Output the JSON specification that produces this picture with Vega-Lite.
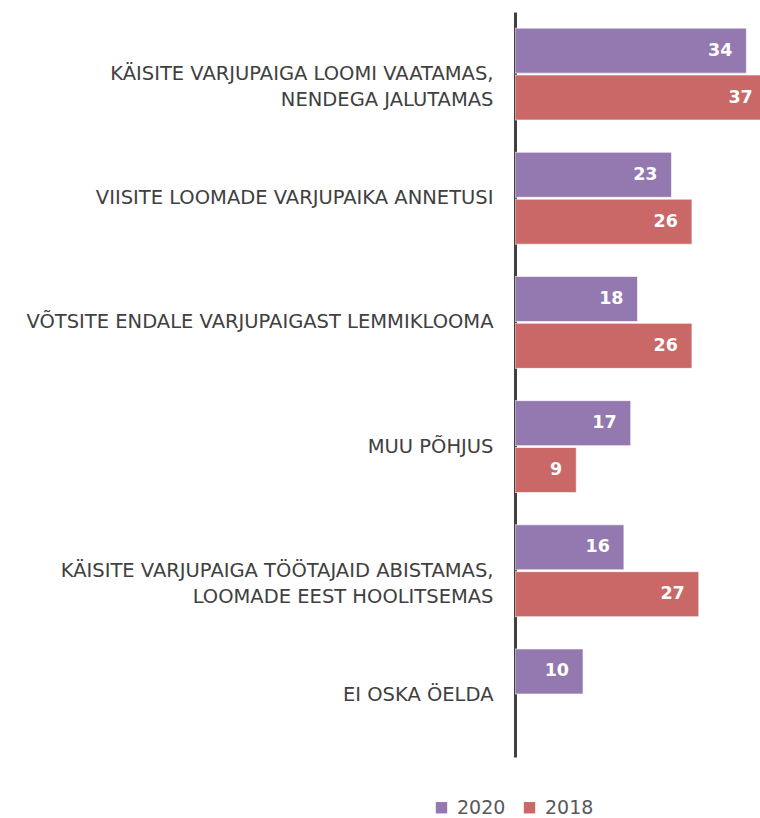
{
  "$schema": "https://vega.github.io/schema/vega-lite/v6.json",
  "width": 245,
  "height": 745,
  "autosize": "none",
  "padding": {"left": 515, "top": 12, "right": 0, "bottom": 61},
  "background": "white",
  "config": {"view": {"stroke": null}, "font": "DejaVu Sans"},
  "data": {
    "values": [
      {"cat": "KÄISITE VARJUPAIGA LOOMI VAATAMAS,\nNENDEGA JALUTAMAS", "year": "2020", "value": 34},
      {"cat": "KÄISITE VARJUPAIGA LOOMI VAATAMAS,\nNENDEGA JALUTAMAS", "year": "2018", "value": 37},
      {"cat": "VIISITE LOOMADE VARJUPAIKA ANNETUSI", "year": "2020", "value": 23},
      {"cat": "VIISITE LOOMADE VARJUPAIKA ANNETUSI", "year": "2018", "value": 26},
      {"cat": "VÕTSITE ENDALE VARJUPAIGAST LEMMIKLOOMA", "year": "2020", "value": 18},
      {"cat": "VÕTSITE ENDALE VARJUPAIGAST LEMMIKLOOMA", "year": "2018", "value": 26},
      {"cat": "MUU PÕHJUS", "year": "2020", "value": 17},
      {"cat": "MUU PÕHJUS", "year": "2018", "value": 9},
      {"cat": "KÄISITE VARJUPAIGA TÖÖTAJAID ABISTAMAS,\nLOOMADE EEST HOOLITSEMAS", "year": "2020", "value": 16},
      {"cat": "KÄISITE VARJUPAIGA TÖÖTAJAID ABISTAMAS,\nLOOMADE EEST HOOLITSEMAS", "year": "2018", "value": 27},
      {"cat": "EI OSKA ÖELDA", "year": "2020", "value": 10}
    ]
  },
  "encoding": {
    "y": {
      "field": "cat",
      "type": "nominal",
      "sort": null,
      "scale": {"paddingInner": 0.26, "paddingOuter": 0.13},
      "axis": {
        "title": null,
        "ticks": false,
        "domainColor": "#404040",
        "domainWidth": 3,
        "labelPadding": 22,
        "labelFont": "DejaVu Sans",
        "labelFontSize": 19.5,
        "labelColor": "#404040",
        "labelLimit": 600,
        "labelLineHeight": 26,
        "labelExpr": "split(datum.label, '\\n')"
      }
    },
    "yOffset": {
      "field": "year",
      "type": "nominal",
      "scale": {"domain": ["2020", "2018"], "paddingInner": 0.04}
    },
    "x": {
      "field": "value",
      "type": "quantitative",
      "scale": {"domain": [0, 36], "nice": false},
      "axis": null
    }
  },
  "layer": [
    {
      "mark": {"type": "bar", "clip": true, "stroke": "#ffffff", "strokeWidth": 1, "strokeOpacity": 0.6},
      "encoding": {
        "color": {
          "field": "year",
          "type": "nominal",
          "scale": {"domain": ["2020", "2018"], "range": ["#9479b0", "#c96866"]},
          "legend": {
            "title": null,
            "orient": "none",
            "direction": "horizontal",
            "legendX": -83,
            "legendY": 786,
            "symbolType": "square",
            "symbolSize": 130,
            "symbolStrokeWidth": 0,
            "labelFontSize": 19,
            "labelFont": "DejaVu Sans",
            "labelColor": "#595959",
            "columnPadding": 14,
            "labelOffset": 6
          }
        }
      }
    },
    {
      "mark": {"type": "text", "align": "right", "baseline": "middle", "dx": -14, "color": "white", "fontWeight": "bold", "fontSize": 17.5, "font": "DejaVu Sans"},
      "encoding": {"text": {"field": "value", "type": "quantitative"}}
    }
  ]
}
